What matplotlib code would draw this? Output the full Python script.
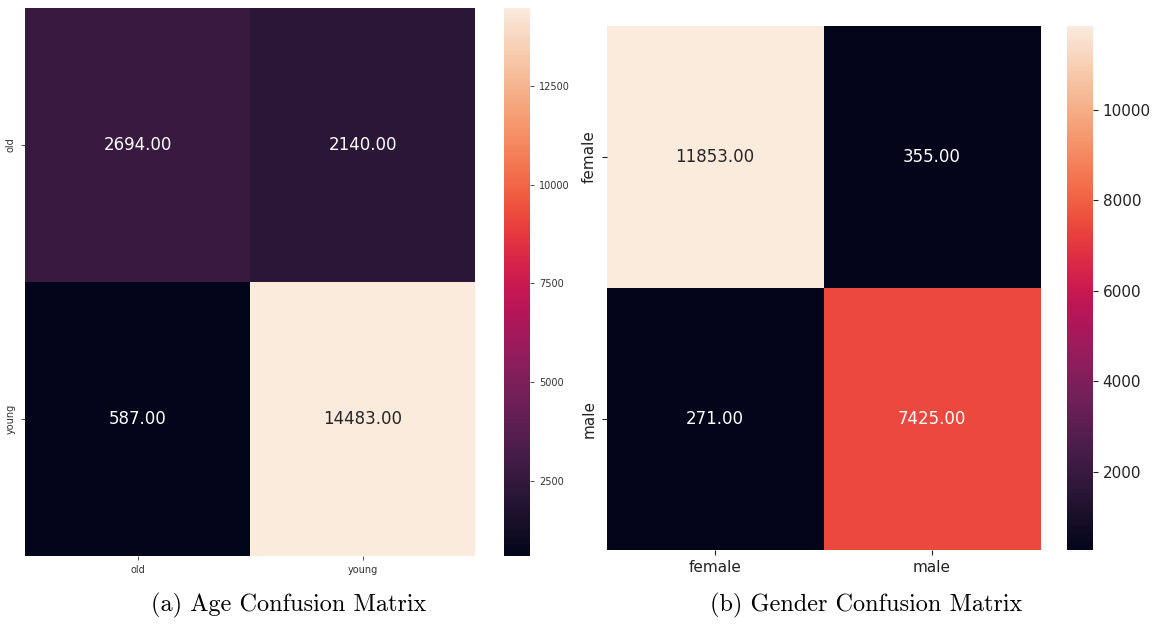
import matplotlib
matplotlib.use("Agg")
import matplotlib.pyplot as plt
import numpy as np
import seaborn as sns

# confusion matrices (rows = true label, cols = predicted)
age_labels = ["old", "young"]
age_counts = [[2694, 2140],
              [587, 14483]]

gender_labels = ["female", "male"]
gender_counts = [[11853, 355],
                 [271, 7425]]

age_cbar_ticks = [2500, 5000, 7500, 10000, 12500]
gender_cbar_ticks = [2000, 4000, 6000, 8000, 10000]

W, H = 1155, 624
fig = plt.figure(figsize=(W / 100, H / 100), dpi=100, facecolor="white")


def px_axes(x0, y_top, w, h):
    # axes placed in pixel units, measured from the top-left corner
    return fig.add_axes([x0 / W, (H - y_top - h) / H, w / W, h / H])


# (a) age
ax_a = px_axes(25, 8, 450, 548)
cax_a = px_axes(504, 8, 26, 548)
sns.heatmap(np.array(age_counts), annot=True, fmt=".2f", cmap="rocket",
            xticklabels=age_labels, yticklabels=age_labels,
            ax=ax_a, cbar_ax=cax_a, annot_kws={"fontsize": 12})
ax_a.tick_params(labelsize=7, length=3, width=0.6, colors="#333333")
cax_a.set_yticks(age_cbar_ticks)
cax_a.tick_params(labelsize=7, length=3, width=0.6, colors="#333333")

# (b) gender
ax_b = px_axes(606.5, 26, 434, 524)
cax_b = px_axes(1067, 26, 26, 524)
sns.heatmap(np.array(gender_counts), annot=True, fmt=".2f", cmap="rocket",
            xticklabels=gender_labels, yticklabels=gender_labels,
            ax=ax_b, cbar_ax=cax_b, annot_kws={"fontsize": 12})
ax_b.tick_params(labelsize=11, length=3.5, colors="#222222")
cax_b.set_yticks(gender_cbar_ticks)
cax_b.tick_params(labelsize=11, length=3.5, colors="#222222")

# sub-figure captions
cap_kw = dict(ha="center", va="center", fontsize=17.5, family="cmr10")
fig.text(289 / W, 1 - 605 / H, "(a) Age Confusion Matrix", **cap_kw)
fig.text(866 / W, 1 - 605 / H, "(b) Gender Confusion Matrix", **cap_kw)

fig.savefig("out.png", dpi=100, facecolor="white")
